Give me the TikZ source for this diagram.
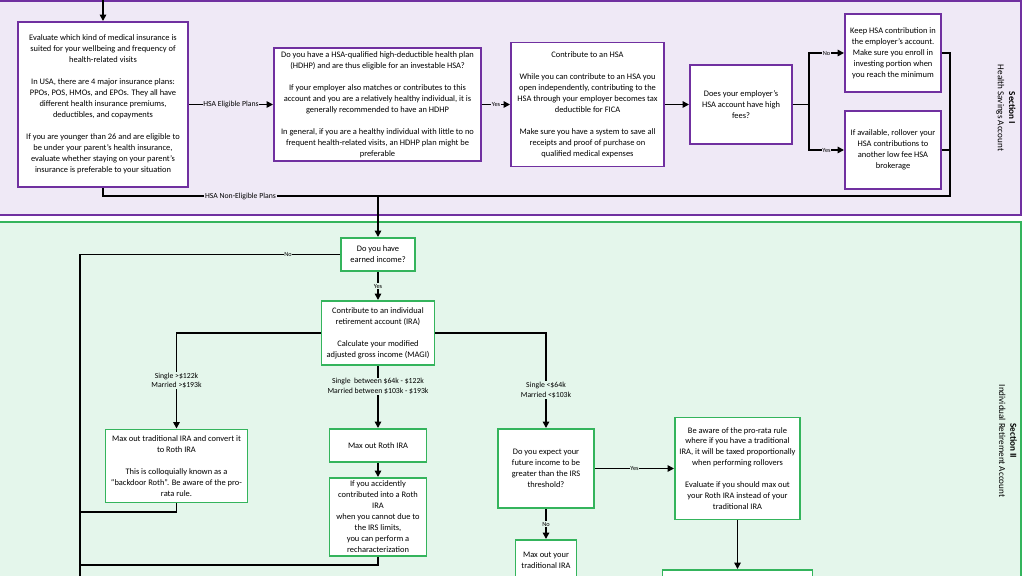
\documentclass[tikz,border=0pt]{standalone}
\usepackage{fontspec}
\setmainfont{Carlito}
\usetikzlibrary{arrows.meta}
\definecolor{hsaline}{RGB}{112,48,160}
\definecolor{hsafill}{RGB}{239,233,246}
\definecolor{iraline}{RGB}{52,180,92}
\definecolor{irafill}{RGB}{228,246,235}
\newcommand{\px}{0.025cm}
\tikzset{dims/.style 2 args={minimum width=#1*\px,minimum height=#2*\px}}

\begin{document}
\begin{tikzpicture}
	[x=\px,y=-\px,
	every node/.style={font=\fontsize{6}{7.8}\selectfont,align=center,inner sep=1pt},
	hsabox/.style={draw=hsaline,line width=1.4pt,fill=white},
	irabox/.style={draw=iraline,line width=1.4pt,fill=white},
	link/.style={line width=1.2pt},
	arr/.style={link,-{Triangle[length=4.5pt,width=4.5pt]}},
	hsalbl/.style={fill=hsafill,inner sep=0.5pt,font=\fontsize{5.5}{7}\selectfont},
	iralbl/.style={fill=irafill,inner sep=0.5pt,font=\fontsize{5.5}{7}\selectfont},
	tiny/.style={font=\fontsize{4.5}{5}\selectfont},
	seclbl/.style={rotate=-90,font=\fontsize{6.5}{8}\selectfont}]
		\useasboundingbox (0,0) rectangle (1024,576);
		\clip (0,0) rectangle (1024,576);
		% sections
		\draw[draw=hsaline,fill=hsafill,line width=1.4pt] (-2,1) rectangle (1021,215);
		\draw[draw=iraline,fill=irafill,line width=1.4pt] (-2,222) rectangle (1021,600);
		\node[seclbl] (sec1) at (1006,108) {\textbf{Section I}\\Health Savings Account};
		\node[seclbl] (sec2) at (1008,441) {\textbf{Section II}\\Individual Retirement Account};

		% Section I
		\coordinate (entry) at (103,-5);
		\node[hsabox,dims={170}{165}] (eval) at (103,104.5)
			{Evaluate which kind of medical insurance is\\suited for your wellbeing and frequency of\\health-related visits\\[7.8pt]
			In USA, there are 4 major insurance plans:\\PPOs, POS, HMOs, and EPOs. They all have\\different health insurance premiums,\\deductibles, and copayments\\[7.8pt]
			If you are younger than 26 and are eligible to\\be under your parent's health insurance,\\evaluate whether staying on your parent's\\insurance is preferable to your situation};
		\node[hsabox,dims={207}{113}] (hdhp) at (377.5,104.5)
			{Do you have a HSA-qualified high-deductible health plan\\(HDHP) and are thus eligible for an investable HSA?\\[7.8pt]
			If your employer also matches or contributes to this\\account and you are a relatively healthy individual, it is\\generally recommended to have an HDHP\\[7.8pt]
			In general, if you are a healthy individual with little to no\\frequent health-related visits, an HDHP plan might be\\preferable};
		\node[hsabox,dims={153}{124}] (contrib) at (587.5,104.5)
			{Contribute to an HSA\\[7.8pt]
			While you can contribute to an HSA you\\open independently, contributing to the\\HSA through your employer becomes tax\\deductible for FICA\\[7.8pt]
			Make sure you have a system to save all\\receipts and proof of purchase on\\qualified medical expenses};
		\node[hsabox,dims={102}{79}] (fees) at (741,104.5) {Does your employer's\\HSA account have high\\fees?};
		\node[hsabox,dims={96}{78}] (keep) at (893,53) {Keep HSA contribution in\\the employer's account.\\Make sure you enroll in\\investing portion when\\you reach the minimum};
		\node[hsabox,dims={96}{78}] (rollover) at (893,150) {If available, rollover your\\HSA contributions to\\another low fee HSA\\brokerage};
		\coordinate (bus) at (950,196);
		\coordinate (merge) at (378,196);

		\draw[arr] (entry) -- (eval);
		\draw[arr] (eval) -- node[hsalbl]{HSA Eligible Plans} (hdhp);
		\draw[arr] (hdhp) -- node[hsalbl,tiny]{Yes} (contrib);
		\draw[arr] (contrib) -- (fees);
		\draw[arr] (fees.east) -- ++(16,0) |- node[hsalbl,tiny,pos=0.75]{No} (keep);
		\draw[arr] (fees.east) -- ++(16,0) |- node[hsalbl,tiny,pos=0.75]{Yes} (rollover);
		\draw[link] (keep) -| (bus);
		\draw[link] (rollover) -| (bus) -- (merge);
		\draw[link] (eval) |- node[hsalbl,pos=0.75]{HSA Non-Eligible Plans} (merge);

		% Section II
		\node[irabox,dims={74}{33}] (earned) at (378,254.5) {Do you have\\earned income?};
		\node[irabox,dims={113}{64}] (ira) at (378,333)
			{Contribute to an individual\\retirement account (IRA)\\[7.8pt]Calculate your modified\\adjusted gross income (MAGI)};
		\node[irabox,dims={142}{73}] (backdoor) at (176.5,466)
			{Max out traditional IRA and convert it\\to Roth IRA\\[7.8pt]This is colloquially known as a\\``backdoor Roth''. Be aware of the pro-\\rata rule.};
		\node[irabox,dims={97}{33}] (roth) at (378,445.5) {Max out Roth IRA};
		\node[irabox,dims={97}{78}] (recharac) at (378,517)
			{If you accidently\\contributed into a Roth\\IRA\\when you cannot due to\\the IRS limits,\\you can perform a\\recharacterization};
		\node[irabox,dims={96}{79}] (expect) at (546,468.5) {Do you expect your\\future income to be\\greater than the IRS\\threshold?};
		\node[irabox,dims={125}{102}] (aware) at (737.5,468.5)
			{Be aware of the pro-rata rule\\where if you have a traditional\\IRA, it will be taxed proportionally\\when performing rollovers\\[7.8pt]
			Evaluate if you should max out\\your Roth IRA instead of your\\traditional IRA};
		\node[irabox,dims={61}{40}] (tradira) at (546,560) {Max out your\\traditional IRA};
		\node[irabox,dims={150}{40}] (nextstep) at (737.5,590) {};
		\coordinate (railtop) at (80,254.5);
		\coordinate (railA) at (80,512);
		\coordinate (railB) at (80,565);
		\coordinate (railend) at (80,590);

		\draw[arr] (merge) -- (earned);
		\draw[link] (earned) -- node[iralbl,tiny,pos=0.2]{No} (railtop) -- (railend);
		\draw[arr] (earned) -- node[iralbl,tiny]{Yes} (ira);
		\draw[arr] (ira) -| node[iralbl,pos=0.75]{Single >\$122k\\Married >\$193k} (backdoor);
		\draw[arr] (ira) -- node[iralbl,pos=0.33]{Single~ between \$64k - \$122k\\Married between \$103k - \$193k} (roth);
		\draw[arr] (ira) -| node[iralbl,pos=0.8]{Single <\$64k\\Married <\$103k} (expect);
		\draw[link] (backdoor) |- (railA);
		\draw[arr] (roth) -- (recharac);
		\draw[link] (recharac) |- (railB);
		\draw[arr] (expect) -- node[iralbl,tiny]{Yes} (aware);
		\draw[arr] (expect) -- node[iralbl,tiny]{No} (tradira);
		\draw[arr] (aware) -- (nextstep);
	\end{tikzpicture}
\end{document}
